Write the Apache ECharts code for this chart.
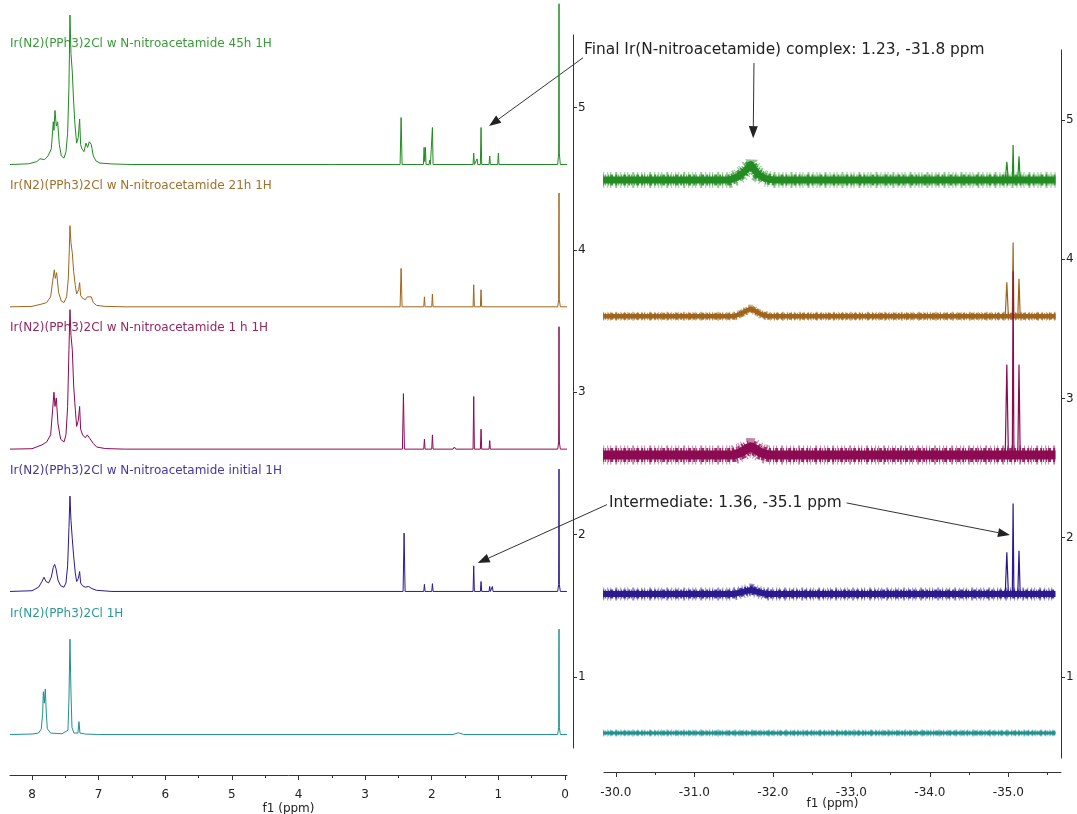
<!DOCTYPE html>
<html>
<head>
<meta charset="utf-8">
<script src="https://cdn.jsdelivr.net/npm/echarts@6/dist/echarts.min.js"></script>
<style>
html,body{margin:0;padding:0;background:#fff;}
#c{width:1077px;height:814px;}
</style>
</head>
<body>
<div id="c"></div>
<script>
// ---------- labels / ticks ----------
const spectrumNames = [
  'Ir(N2)(PPh3)2Cl w N-nitroacetamide 45h 1H',
  'Ir(N2)(PPh3)2Cl w N-nitroacetamide 21h 1H',
  'Ir(N2)(PPh3)2Cl w N-nitroacetamide 1 h 1H',
  'Ir(N2)(PPh3)2Cl w N-nitroacetamide initial 1H',
  'Ir(N2)(PPh3)2Cl 1H'
];
const colors = ['#228b22', '#a0651c', '#8b0a52', '#2a1a8e', '#209090'];
const labelColors = ['#3a9a3a', '#a0702e', '#94285e', '#44389a', '#2c9898'];
const leftOffsets = [4.60, 3.60, 2.60, 1.60, 0.595];
const rightOffsets = [4.57, 3.59, 2.594, 1.596, 0.598];
const leftMajorTicks = [0, 1, 2, 3, 4, 5, 6, 7, 8];
const leftMinorTicks = [0.5, 1.5, 2.5, 3.5, 4.5, 5.5, 6.5, 7.5];
const rightMajorTicks = [-30, -31, -32, -33, -34, -35];
const rightMinorTicks = [-30.5, -31.5, -32.5, -33.5, -34.5, -35.5];
const yTicks = [1, 2, 3, 4, 5];

// ---------- 1H spectra [ppm, intensity] ----------
const h1_45h = [
  [8.33,0],[8.05,0.005],[7.93,0.02],[7.88,0.04],[7.85,0.05],[7.81,0.035],[7.76,0.06],[7.71,0.11],[7.68,0.30],[7.67,0.24],
  [7.655,0.38],[7.635,0.27],[7.615,0.30],[7.59,0.14],[7.56,0.06],[7.52,0.045],[7.49,0.09],[7.465,0.22],[7.445,0.55],[7.43,1.05],
  [7.415,0.78],[7.395,0.65],[7.375,0.44],[7.355,0.28],[7.33,0.15],[7.305,0.19],[7.285,0.32],[7.27,0.14],[7.25,0.11],[7.22,0.09],
  [7.19,0.15],[7.165,0.12],[7.14,0.16],[7.11,0.14],[7.08,0.06],[7.04,0.025],[6.98,0.01],[6.8,0.004],[6.5,0],
  [3.52,0],[3.5,0.008],[3.48,0],
  [2.475,0],[2.46,0.33],[2.445,0],
  [2.125,0],[2.115,0.12],[2.105,0.02],[2.095,0.12],[2.085,0],
  [2.04,0],[2.03,0.03],[2.02,0],
  [2.0,0],[1.99,0.26],[1.98,0],
  [1.38,0],[1.37,0.08],[1.36,0],
  [1.33,0],[1.32,0.04],[1.31,0],
  [1.27,0],[1.26,0.26],[1.25,0],
  [1.14,0],[1.13,0.06],[1.12,0],
  [1.01,0],[1.0,0.08],[0.99,0],
  [0.11,0],[0.095,0.08],[0.09,1.13],[0.085,0.08],[0.07,0],[-0.03,0]
];
const h1_21h = [
  [8.33,0],[8.0,0.003],[7.85,0.02],[7.78,0.03],[7.72,0.07],[7.69,0.18],[7.665,0.26],[7.65,0.20],[7.63,0.24],[7.6,0.10],
  [7.56,0.04],[7.52,0.03],[7.48,0.07],[7.455,0.2],[7.44,0.4],[7.43,0.57],[7.415,0.45],[7.395,0.38],[7.375,0.25],[7.35,0.15],
  [7.33,0.09],[7.3,0.12],[7.285,0.17],[7.27,0.08],[7.24,0.06],[7.2,0.05],[7.17,0.07],[7.14,0.06],[7.11,0.07],[7.08,0.03],
  [7.03,0.01],[6.9,0.003],[6.6,0],
  [2.475,0],[2.46,0.27],[2.445,0],
  [2.12,0],[2.11,0.07],[2.1,0],
  [2.0,0],[1.99,0.09],[1.98,0],
  [1.38,0],[1.37,0.155],[1.36,0],
  [1.27,0],[1.26,0.12],[1.25,0],
  [0.11,0],[0.095,0.05],[0.09,0.80],[0.085,0.05],[0.07,0],[-0.03,0]
];
const h1_1h = [
  [8.33,0],[8.0,0.003],[7.85,0.03],[7.78,0.05],[7.72,0.10],[7.69,0.28],[7.67,0.40],[7.655,0.30],[7.635,0.36],[7.61,0.18],
  [7.57,0.07],[7.52,0.05],[7.49,0.10],[7.465,0.3],[7.445,0.7],[7.43,0.98],[7.415,0.80],[7.395,0.70],[7.375,0.45],[7.35,0.28],
  [7.33,0.16],[7.305,0.2],[7.285,0.30],[7.27,0.14],[7.24,0.10],[7.2,0.08],[7.17,0.10],[7.14,0.08],[7.11,0.09],[7.08,0.04],
  [7.03,0.015],[6.9,0.004],[6.6,0],
  [2.44,0],[2.425,0.39],[2.41,0],
  [2.12,0],[2.11,0.07],[2.1,0],
  [2.0,0],[1.99,0.10],[1.98,0],
  [1.68,0],[1.66,0.015],[1.64,0],
  [1.38,0],[1.37,0.37],[1.36,0],
  [1.27,0],[1.26,0.14],[1.25,0],
  [1.14,0],[1.13,0.06],[1.12,0],
  [0.11,0],[0.095,0.05],[0.09,0.86],[0.085,0.05],[0.07,0],[-0.03,0]
];
const h1_initial = [
  [8.33,0],[8.0,0.005],[7.9,0.03],[7.85,0.07],[7.82,0.10],[7.79,0.07],[7.75,0.06],[7.71,0.10],[7.68,0.17],[7.66,0.19],
  [7.64,0.16],[7.61,0.08],[7.57,0.04],[7.52,0.03],[7.49,0.06],[7.465,0.18],[7.445,0.45],[7.43,0.67],[7.415,0.50],[7.395,0.37],
  [7.375,0.25],[7.35,0.13],[7.33,0.07],[7.305,0.09],[7.285,0.14],[7.27,0.06],[7.24,0.04],[7.2,0.03],[7.15,0.035],[7.1,0.02],
  [7.03,0.008],[6.8,0],
  [2.43,0],[2.415,0.41],[2.40,0],
  [2.12,0],[2.11,0.05],[2.1,0],
  [2.0,0],[1.99,0.055],[1.98,0],
  [1.38,0],[1.37,0.18],[1.36,0],
  [1.27,0],[1.26,0.07],[1.25,0],
  [1.14,0],[1.13,0.035],[1.12,0],
  [1.10,0],[1.09,0.035],[1.08,0],
  [0.11,0],[0.095,0.05],[0.09,0.86],[0.085,0.05],[0.07,0],[-0.03,0]
];
const h1_start = [
  [8.33,0],[8.0,0.003],[7.9,0.01],[7.86,0.04],[7.84,0.15],[7.83,0.30],[7.815,0.22],[7.80,0.32],[7.785,0.15],[7.77,0.04],
  [7.72,0.01],[7.55,0.005],[7.46,0.03],[7.445,0.25],[7.43,0.67],[7.415,0.30],[7.40,0.05],[7.37,0.01],[7.31,0.01],[7.295,0.09],
  [7.28,0.01],[7.2,0.003],[7.0,0],
  [1.68,0],[1.6,0.012],[1.52,0],
  [0.11,0],[0.095,0.05],[0.09,0.74],[0.085,0.05],[0.07,0],[-0.03,0]
];
const leftSpectra = [h1_45h, h1_21h, h1_1h, h1_initial, h1_start];

// ---------- 31P spectra: noisy baseline band + sharp lines ----------
const p31_45h_band = [[-29.84,0],[-31.45,0],[-31.55,0.02],[-31.62,0.05],[-31.68,0.085],[-31.72,0.11],[-31.76,0.08],[-31.81,0.04],[-31.9,0.01],[-32.0,0],[-35.6,0]];
const p31_21h_band = [[-29.84,0],[-31.5,0],[-31.6,0.02],[-31.68,0.045],[-31.72,0.055],[-31.77,0.04],[-31.85,0.015],[-31.95,0],[-35.6,0]];
const p31_1h_band = [[-29.84,0],[-31.5,0],[-31.6,0.02],[-31.68,0.05],[-31.72,0.06],[-31.77,0.045],[-31.85,0.015],[-31.95,0],[-35.6,0]];
const p31_initial_band = [[-29.84,0],[-31.5,0],[-31.62,0.015],[-31.72,0.03],[-31.8,0.015],[-31.92,0],[-35.6,0]];
const p31_start_band = [[-29.84,0],[-35.6,0]];
const p31_45h_lines = [[-34.96,0],[-34.98,0.13],[-35.0,0],[-35.05,0],[-35.06,0.25],[-35.07,0],[-35.12,0],[-35.135,0.17],[-35.15,0]];
const p31_21h_lines = [[-34.96,0],[-34.98,0.245],[-35.0,0],[-35.05,0],[-35.06,0.53],[-35.07,0],[-35.12,0],[-35.135,0.27],[-35.15,0]];
const p31_1h_lines = [[-34.96,0],[-34.98,0.65],[-35.0,0],[-35.05,0],[-35.06,1.32],[-35.07,0],[-35.12,0],[-35.135,0.65],[-35.15,0]];
const p31_initial_lines = [[-34.96,0],[-34.98,0.30],[-35.0,0],[-35.05,0],[-35.06,0.65],[-35.07,0],[-35.12,0],[-35.135,0.31],[-35.15,0]];
const rightBands = [p31_45h_band, p31_21h_band, p31_1h_band, p31_initial_band, p31_start_band];
const rightLines = [p31_45h_lines, p31_21h_lines, p31_1h_lines, p31_initial_lines, []];
const bandCore = [7, 4.5, 9, 6, 3];
const bandMid = [11, 7, 14, 9, 5];
const bandOuter = [16, 9, 19, 13, 7];

// ---------- annotations ----------
const annotFinal = 'Final Ir(N-nitroacetamide) complex: 1.23, -31.8 ppm';
const annotInter = 'Intermediate: 1.36, -35.1 ppm';

const FONT = 'DejaVu Sans';
const chart = echarts.init(document.getElementById('c'), null, {renderer: 'canvas'});

function shift(arr, off) { return arr.map(p => [p[0], p[1] + off]); }

const axisColor = '#333';
function xAxisMajor(grid, min, max, offset, ticks, fmt, margin, gap) {
  return {
    gridIndex: grid, type: 'value', min: min, max: max, inverse: true, position: 'bottom', offset: offset,
    axisLine: {show: true, onZero: false, lineStyle: {color: axisColor, width: 1}},
    axisTick: {show: true, customValues: ticks, length: 5, lineStyle: {color: axisColor}},
    axisLabel: {show: true, customValues: ticks, margin: margin, color: '#222', fontSize: 12, fontFamily: FONT, formatter: fmt},
    splitLine: {show: false},
    name: 'f1 (ppm)', nameLocation: 'middle', nameGap: gap, nameMoveOverlap: false,
    nameTextStyle: {color: '#222', fontSize: 12, fontFamily: FONT}
  };
}
function xAxisMinor(grid, min, max, offset, ticks) {
  return {
    gridIndex: grid, type: 'value', min: min, max: max, inverse: true, position: 'bottom', offset: offset,
    axisLine: {show: false, onZero: false},
    axisTick: {show: true, customValues: ticks, length: 3, lineStyle: {color: axisColor}},
    axisLabel: {show: false}, splitLine: {show: false}
  };
}
function yAxisDef(grid, min, max, offset) {
  return {
    gridIndex: grid, type: 'value', min: min, max: max, position: 'right', offset: offset,
    axisLine: {show: true, onZero: false, lineStyle: {color: axisColor, width: 1}},
    axisTick: {show: true, customValues: yTicks, length: 4, lineStyle: {color: axisColor}},
    axisLabel: {show: true, customValues: yTicks, margin: 5, color: '#222', fontSize: 12, fontFamily: FONT},
    splitLine: {show: false}
  };
}

const series = [];
function lineSeries(xi, yi, data, ls) {
  return {type: 'line', xAxisIndex: xi, yAxisIndex: yi, data: data,
    showSymbol: false, clip: false, silent: true, animation: false, lineStyle: ls};
}
leftSpectra.forEach((sp, i) => {
  series.push(lineSeries(0, 0, shift(sp, leftOffsets[i]), {color: colors[i], width: 1}));
});
rightBands.forEach((sp, i) => {
  const d = shift(sp, rightOffsets[i]);
  series.push(lineSeries(2, 1, d, {color: colors[i], width: bandOuter[i], cap: 'butt', opacity: 0.5,
    type: [1, 3, 1, 2, 1, 4, 2, 3], dashOffset: 0}));
  series.push(lineSeries(2, 1, d, {color: colors[i], width: bandMid[i], cap: 'butt', opacity: 0.85,
    type: [2, 1, 1, 2, 1, 1, 3, 2], dashOffset: 1}));
  series.push(lineSeries(2, 1, d, {color: colors[i], width: bandCore[i], cap: 'butt', join: 'round'}));
});
rightLines.forEach((sp, i) => {
  if (!sp.length) return;
  series.push(lineSeries(2, 1, shift(sp, rightOffsets[i]), {color: colors[i], width: 1.2}));
});

chart.setOption({
  backgroundColor: '#ffffff',
  animation: false,
  grid: [
    {left: 10, top: 35, width: 557, height: 713, containLabel: false, outerBoundsMode: 'none'},
    {left: 604, top: 50, width: 457, height: 708, containLabel: false, outerBoundsMode: 'none'}
  ],
  xAxis: [
    xAxisMajor(0, -0.03, 8.33, 27, leftMajorTicks, v => String(v), 14, 28),
    xAxisMinor(0, -0.03, 8.33, 27, leftMinorTicks),
    xAxisMajor(1, -35.67, -29.85, 14, rightMajorTicks, v => v.toFixed(1), 15, 26),
    xAxisMinor(1, -35.67, -29.85, 14, rightMinorTicks)
  ],
  yAxis: [
    yAxisDef(0, 0.5, 5.51, 6),
    yAxisDef(1, 0.418, 5.503, 0)
  ],
  series: series
});

// ---------- graphics positioned via the chart's own scales ----------
function px(gridIdx, pt) { return chart.convertToPixel({gridIndex: gridIdx}, pt); }
const graphics = [];
spectrumNames.forEach((name, i) => {
  const p = px(0, [8.33, leftOffsets[i] + 0.85]);
  graphics.push({type: 'text', x: p[0], y: p[1], silent: true,
    style: {text: name, fill: labelColors[i], font: '12px ' + FONT, textVerticalAlign: 'middle', textAlign: 'left'}});
});
graphics.push({type: 'text', x: 584, y: 50, silent: true,
  style: {text: annotFinal, fill: '#222', font: '15.4px ' + FONT, textVerticalAlign: 'middle'}});
graphics.push({type: 'text', x: 609, y: 503, silent: true,
  style: {text: annotInter, fill: '#222', font: '15.4px ' + FONT, textVerticalAlign: 'middle'}});

const arrows = [
  {grid: 0, from: [-0.27, 5.35], to: [1.14, 4.87]},
  {grid: 1, from: [-31.76, 5.41], to: [-31.75, 4.87]},
  {grid: 0, from: [-0.63, 2.21], to: [1.31, 1.80]},
  {grid: 1, from: [-32.94, 2.25], to: [-35.02, 2.02]}
];
arrows.forEach(a => {
  const s = px(a.grid, a.from), t = px(a.grid, a.to);
  const dx = t[0] - s[0], dy = t[1] - s[1], L = Math.hypot(dx, dy);
  const ux = dx / L, uy = dy / L, hl = 12, hw = 4.5;
  const bx = t[0] - ux * hl, by = t[1] - uy * hl;
  graphics.push({type: 'line', silent: true, shape: {x1: s[0], y1: s[1], x2: bx, y2: by}, style: {stroke: '#333', lineWidth: 1}});
  graphics.push({type: 'polygon', silent: true,
    shape: {points: [[t[0], t[1]], [bx - uy * hw, by + ux * hw], [bx + uy * hw, by - ux * hw]]},
    style: {fill: '#222'}});
});
chart.setOption({graphic: graphics});
</script>
</body>
</html>
